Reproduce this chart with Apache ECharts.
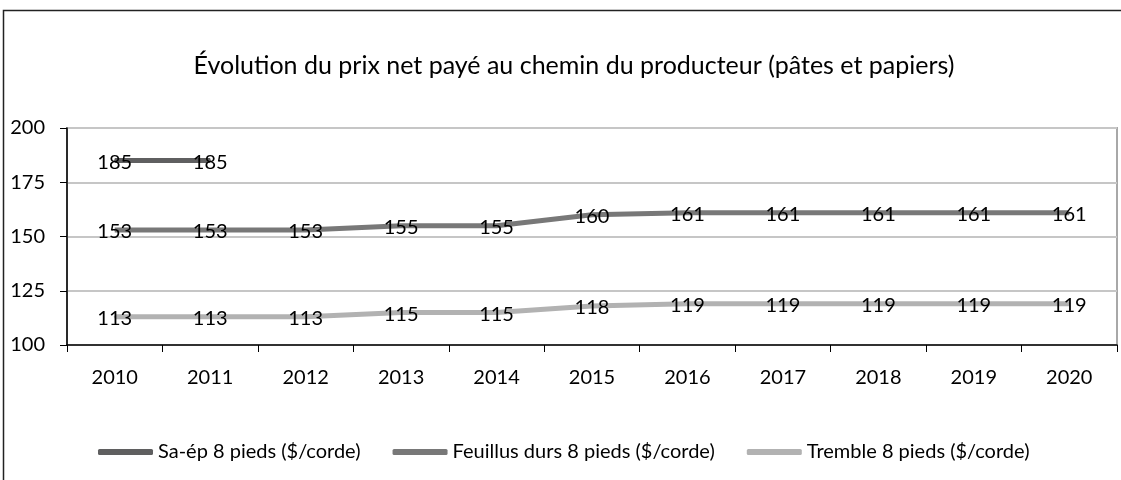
<!DOCTYPE html>
<html>
<head>
<meta charset="utf-8">
<script src="https://cdn.jsdelivr.net/npm/echarts@6/dist/echarts.min.js"></script>
<style>
  html, body { margin: 0; padding: 0; background: #fff; }
  #chart { width: 1121px; height: 480px; }
</style>
</head>
<body>
<div id="chart"></div>
<script>
const years = ['2010', '2011', '2012', '2013', '2014', '2015', '2016', '2017', '2018', '2019', '2020'];
const saEp = [185, 185, null, null, null, null, null, null, null, null, null];
const feuillus = [153, 153, 153, 155, 155, 160, 161, 161, 161, 161, 161];
const tremble = [113, 113, 113, 115, 115, 118, 119, 119, 119, 119, 119];
const seriesNames = ['Sa-ép 8 pieds ($/corde)', 'Feuillus durs 8 pieds ($/corde)', 'Tremble 8 pieds ($/corde)'];
const seriesColors = ['#5f5f60', '#787878', '#b2b2b2'];

const font = 'Lato, "Open Sans", sans-serif';
const chart = echarts.init(document.getElementById('chart'));

// une série ligne avec étiquette centrée sur le point
const makeSeries = (name, data, color) => ({
    name,
    type: 'line',
    data,
    symbol: 'circle',
    symbolSize: 2,
    connectNulls: false,
    lineStyle: { color, width: 5 },
    itemStyle: { color },
    label: {
        show: true,
        position: 'inside',
        offset: [0, 2],
        color: '#000',
        fontFamily: font,
        fontSize: 20
    },
    emphasis: { disabled: true }
});

const option = {
    animation: false,
    backgroundColor: '#fff',
    title: {
        text: 'Évolution du prix net payé au chemin du producteur (pâtes et papiers)',
        left: 569,
        textAlign: 'center',
        top: 48,
        textStyle: { fontFamily: font, fontSize: 25, fontWeight: 'normal', color: '#000' }
    },
    graphic: [{
        type: 'rect',
        shape: { x: 3.5, y: 10.5, width: 1140, height: 490 },
        style: { fill: 'none', stroke: '#222', lineWidth: 1.5 },
        silent: true
    }],
    legend: {
        left: 93,
        top: 437,
        itemWidth: 55,
        itemHeight: 6,
        itemGap: 32,
        icon: 'roundRect',
        textStyle: { fontFamily: font, fontSize: 20, color: '#000' },
        data: seriesNames
    },
    grid: {
        left: 67,
        right: 4,
        top: 128,
        bottom: 135,
        show: true,
        borderColor: '#a8a8a8',
        borderWidth: 2
    },
    xAxis: {
        type: 'category',
        data: years,
        boundaryGap: true,
        axisLine: { lineStyle: { color: '#000', width: 1.5 } },
        axisTick: { show: true, length: 7, lineStyle: { color: '#000' } },
        axisLabel: { margin: 23, fontFamily: font, fontSize: 20, color: '#000' }
    },
    yAxis: {
        type: 'value',
        min: 100,
        max: 200,
        interval: 25,
        axisLine: { show: true, lineStyle: { color: '#000', width: 1.5 } },
        axisTick: { show: true, length: 7, lineStyle: { color: '#000' } },
        axisLabel: { margin: 22, fontFamily: font, fontSize: 20, color: '#000' },
        splitLine: { lineStyle: { color: '#c6c6c6', width: 2 } }
    },
    series: [
        makeSeries(seriesNames[0], saEp, seriesColors[0]),
        makeSeries(seriesNames[1], feuillus, seriesColors[1]),
        makeSeries(seriesNames[2], tremble, seriesColors[2])
    ]
};

chart.setOption(option);
window.addEventListener('resize', () => chart.resize());
</script>
</body>
</html>
